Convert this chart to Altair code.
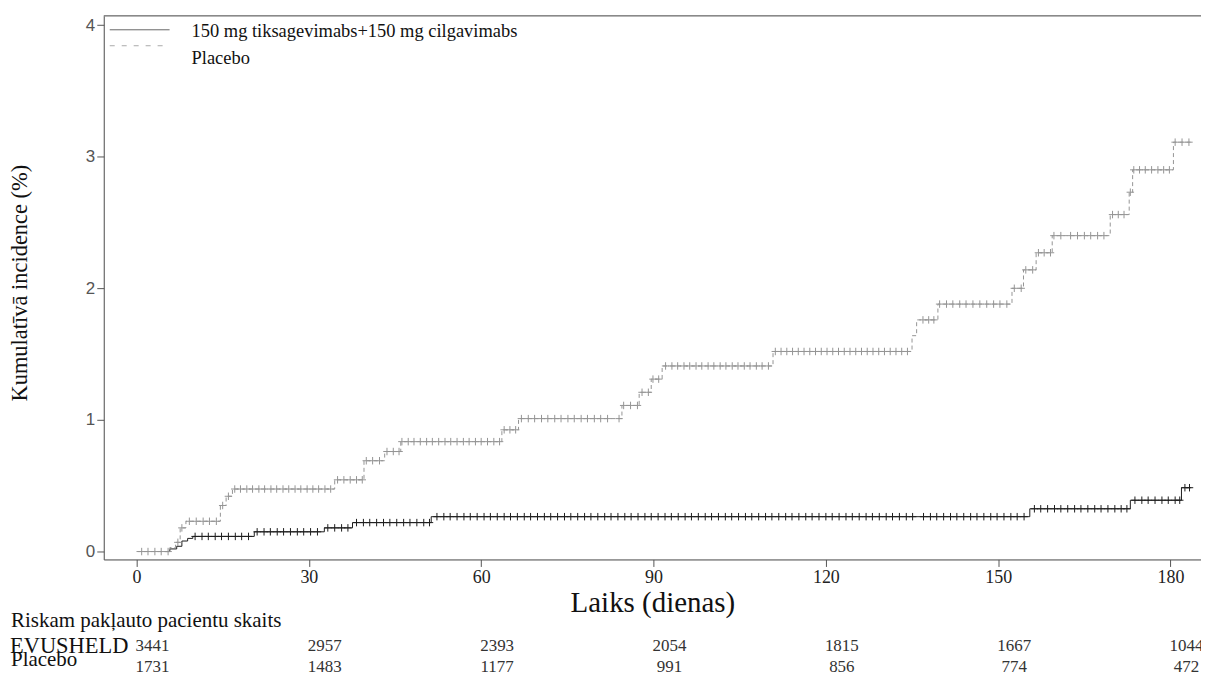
import altair as alt
import pandas as pd
import numpy as np

# ---- Kaplan-Meier style step curves (cumulative incidence, %) ----
evu_step_days = [5.0, 5.8, 7.0, 7.9, 8.9, 9.8, 20.5, 32.7, 37.6, 51.3, 155.5, 173.0, 181.9, 183.6]
evu_step_pct = [0, 0.02, 0.04, 0.08, 0.10, 0.115, 0.15, 0.18, 0.22, 0.265, 0.325, 0.39, 0.485, 0.485]

pla_step_days = [0, 5.8, 6.8, 7.6, 8.6, 14.6, 15.6, 16.7, 34.5, 39.6, 43.2, 46.0, 63.6, 66.5,
                 84.5, 87.5, 89.6, 91.5, 110.8, 135.0, 135.8, 139.5, 152.4, 154.4, 156.6, 159.4,
                 169.5, 172.8, 173.4, 180.5, 183.6]
pla_step_pct = [0, 0.03, 0.07, 0.18, 0.23, 0.35, 0.42, 0.475, 0.545, 0.69, 0.76, 0.835, 0.925, 1.01,
                1.11, 1.21, 1.31, 1.41, 1.52, 1.64, 1.76, 1.88, 2.0, 2.14, 2.27, 2.40,
                2.56, 2.73, 2.90, 3.11, 3.11]

# ---- censoring marks (days) ----
evu_cens_days = [
    10.2, 11.4, 12.5, 13.7, 14.8, 16.0, 17.2, 18.3, 19.5,
    21.0, 22.2, 23.3, 24.5, 25.6, 26.8, 28.0, 29.1, 30.3, 31.5,
    33.3, 34.5, 35.7, 36.8,
    38.3, 39.5, 40.6, 41.8, 43.0, 44.1, 45.3, 46.5, 47.6, 48.8, 50.0, 51.0,
    52.3, 53.5, 54.6, 55.8, 57.0, 58.1, 59.3, 60.5, 61.6, 62.8, 64.0, 65.1, 66.3, 67.5, 68.6,
    69.8, 71.0, 72.1, 73.3, 74.5, 75.6, 76.8, 78.0, 79.1, 80.3, 81.5, 82.6, 83.8, 85.0, 86.1,
    87.3, 88.5, 89.6, 90.8, 92.0, 93.1, 94.3, 95.5, 96.6, 97.8, 99.0, 100.1, 101.3, 102.5,
    103.6, 104.8, 106.0, 107.1, 108.3, 109.5, 110.6, 111.8, 113.0, 114.1, 115.3, 116.5, 117.6,
    118.8, 120.0, 121.1, 122.3, 123.5, 124.6, 125.8, 127.0, 128.1, 129.3, 130.5, 131.6, 132.8,
    134.0, 135.1, 137.0, 138.2, 139.3, 140.5, 141.7, 142.8, 144.0, 145.2, 146.3, 147.5, 148.7,
    149.8, 151.0, 152.2, 153.3, 154.5,
    156.3, 157.4, 158.6, 159.8, 160.9, 162.1, 163.3, 164.4, 165.6, 166.8, 167.9, 169.1, 170.3,
    171.4, 172.4,
    173.8, 175.0, 176.1, 177.3, 178.5, 179.6, 180.8, 181.6,
    182.5, 183.3,
]

pla_cens_days = [
    0.9, 2.0, 3.2, 4.3, 5.5,
    7.2, 7.9,
    9.2, 10.4, 11.6, 12.7, 13.9,
    15.0, 16.0,
    17.1, 18.1, 19.2, 20.2, 21.3, 22.3, 23.4, 24.4, 25.5, 26.5, 27.6, 28.6, 29.7, 30.7, 31.7, 32.8, 33.8,
    35.0, 36.1, 37.2, 38.3, 39.3,
    40.0, 41.1, 42.3,
    43.6, 44.7, 45.7,
    46.2, 47.3, 48.3, 49.4, 50.5, 51.5, 52.6, 53.7, 54.7, 55.8, 56.9, 57.9, 59.0, 60.0, 61.1, 62.2, 63.2,
    64.0, 65.0, 66.0,
    67.0, 68.2, 69.3, 70.5, 71.6, 72.8, 73.9, 75.1, 76.2, 77.4, 78.5, 79.7, 80.8, 82.0, 84.0,
    84.8, 86.0, 87.2,
    88.0, 89.1,
    89.9, 90.9,
    92.1, 93.2, 94.2, 95.3, 96.3, 97.4, 98.4, 99.5, 100.5, 101.6, 102.6, 103.7, 104.7, 105.8,
    106.8, 107.9, 108.9, 110.0,
    111.2, 112.2, 113.2, 114.2, 115.2, 116.2, 117.2, 118.2, 119.2, 120.2, 121.2, 122.2, 123.2,
    124.2, 125.2, 126.2, 127.2, 128.2, 129.2, 130.2, 131.2, 132.2, 133.2, 134.2,
    136.9, 137.9, 138.8,
    139.8, 141.0, 142.1, 143.3, 144.4, 145.6, 146.8, 148.0, 149.2, 150.3, 151.5,
    152.8, 154.0,
    154.8, 156.0,
    157.0, 158.0, 159.1,
    159.7, 160.9, 162.6, 163.8, 165.0, 166.1, 167.3, 168.4,
    169.9, 170.9, 171.9,
    173.0,
    173.6, 174.6, 175.6, 176.7, 177.8, 178.8, 179.8,
    180.8, 182.0, 183.2,
]

# ---- number at risk table ----
risk_days = [0, 30, 60, 90, 120, 150, 180]
evu_risk = [3441, 2957, 2393, 2054, 1815, 1667, 1044]
pla_risk = [1731, 1483, 1177, 991, 856, 774, 472]

x_ticks = [0, 30, 60, 90, 120, 150, 180]
y_ticks = [0, 1, 2, 3, 4]

SERIF = "Liberation Serif"
SANS = "Liberation Sans"
W, H = 1100, 545
BLACK = "#1e1e1e"
GRAY = "#959595"


def step_value(days, step_d, step_v):
    idx = np.searchsorted(np.array(step_d), np.array(days), side="right") - 1
    idx = np.clip(idx, 0, len(step_v) - 1)
    return [step_v[i] for i in idx]


evu_line = pd.DataFrame({"day": evu_step_days, "pct": evu_step_pct})
pla_line = pd.DataFrame({"day": pla_step_days, "pct": pla_step_pct})
evu_cens = pd.DataFrame({"day": evu_cens_days,
                         "pct": step_value(evu_cens_days, evu_step_days, evu_step_pct)})
pla_cens = pd.DataFrame({"day": pla_cens_days,
                         "pct": step_value(pla_cens_days, pla_step_days, pla_step_pct)})
risk_df = pd.DataFrame({"day": risk_days, "evu": evu_risk, "pla": pla_risk})

xscale = alt.Scale(domain=[-5.7, 185.3], nice=False, zero=False)
yscale = alt.Scale(domain=[-0.06, 4.07], nice=False, zero=False)

x_axis = alt.Axis(values=x_ticks, grid=False, labelFont=SERIF, labelFontSize=18,
                  labelColor="#222", tickSize=7, tickColor="#555", domainColor="#555",
                  labelPadding=2, title="Laiks (dienas)", titleFont=SERIF,
                  titleFontSize=29, titleFontWeight="normal", titleColor="#111",
                  titlePadding=2)
y_axis = alt.Axis(values=y_ticks, grid=False, labelFont=SANS, labelFontSize=17,
                  labelColor="#555", tickSize=7, tickColor="#555", domainColor="#555",
                  labelPadding=2, format="d", title=None)

X = alt.X("day:Q", scale=xscale, axis=x_axis)
Y = alt.Y("pct:Q", scale=yscale, axis=y_axis)
Xn = alt.X("day:Q", scale=xscale)
Yn = alt.Y("pct:Q", scale=yscale)

plus = "M-1,0L1,0M0,-1L0,1"

evu_l = alt.Chart(evu_line).mark_line(interpolate="step-after", color=BLACK,
                                      strokeWidth=1).encode(x=X, y=Y)
pla_l = alt.Chart(pla_line).mark_line(interpolate="step-after", color=GRAY,
                                      strokeWidth=1, strokeDash=[4, 3]).encode(x=Xn, y=Yn)
evu_c = alt.Chart(evu_cens).mark_point(shape=plus, size=56, filled=False, color=BLACK,
                                       strokeWidth=1, opacity=1).encode(x=Xn, y=Yn)
pla_c = alt.Chart(pla_cens).mark_point(shape=plus, size=56, filled=False, color=GRAY,
                                       strokeWidth=1, opacity=1).encode(x=Xn, y=Yn)

one = pd.DataFrame({"t": [""]})

top_border = alt.Chart(one).mark_rule(color="#555", strokeWidth=1).encode(
    x=alt.value(0), x2=alt.value(W), y=alt.value(0))

# legend
leg_solid = alt.Chart(one).mark_rule(color="#666", strokeWidth=1).encode(
    x=alt.value(6), x2=alt.value(66), y=alt.value(14))
leg_dash = alt.Chart(one).mark_rule(color="#aaa", strokeWidth=1, strokeDash=[5, 7]).encode(
    x=alt.value(6), x2=alt.value(60), y=alt.value(30))
leg_txt1 = alt.Chart(pd.DataFrame({"t": ["150 mg tiksagevimabs+150 mg cilgavimabs"]})).mark_text(
    font=SERIF, fontSize=18.5, color="#111", align="left", baseline="middle").encode(
    text="t:N", x=alt.value(88), y=alt.value(15))
leg_txt2 = alt.Chart(pd.DataFrame({"t": ["Placebo"]})).mark_text(
    font=SERIF, fontSize=18.5, color="#111", align="left", baseline="middle").encode(
    text="t:N", x=alt.value(88), y=alt.value(42))

# y title
y_title = alt.Chart(pd.DataFrame({"t": ["Kumulatīvā incidence (%)"]})).mark_text(
    font=SERIF, fontSize=22.5, color="#111", angle=270, align="center", baseline="middle").encode(
    text="t:N", x=alt.value(-84), y=alt.value(268))

# risk table
risk_head = alt.Chart(pd.DataFrame({"t": ["Riskam pakļauto pacientu skaits"]})).mark_text(
    font=SERIF, fontSize=21, color="#111", align="left", baseline="middle").encode(
    text="t:N", x=alt.value(-93), y=alt.value(607))
risk_evu_lab = alt.Chart(pd.DataFrame({"t": ["EVUSHELD"]})).mark_text(
    font=SERIF, fontSize=22.5, color="#111", align="left", baseline="middle").encode(
    text="t:N", x=alt.value(-94), y=alt.value(632))
risk_pla_lab = alt.Chart(pd.DataFrame({"t": ["Placebo"]})).mark_text(
    font=SERIF, fontSize=21, color="#111", align="left", baseline="middle").encode(
    text="t:N", x=alt.value(-93), y=alt.value(646))
risk_evu = alt.Chart(risk_df).mark_text(font=SERIF, fontSize=17, color="#333",
                                        align="center", baseline="middle", dx=16).encode(
    text="evu:Q", x=Xn, y=alt.value(632))
risk_pla = alt.Chart(risk_df).mark_text(font=SERIF, fontSize=17, color="#333",
                                        align="center", baseline="middle", dx=16).encode(
    text="pla:Q", x=Xn, y=alt.value(653))

chart = alt.layer(
    evu_l, pla_l, pla_c, evu_c, top_border,
    leg_solid, leg_dash, leg_txt1, leg_txt2, y_title,
    risk_head, risk_evu_lab, risk_pla_lab, risk_evu, risk_pla,
).properties(
    width=W, height=H,
    autosize=alt.AutoSizeParams(type="none"),
    padding={"left": 96, "top": 7, "right": 0, "bottom": 116},
).configure_view(stroke=None).configure(background="white")

chart.save("out.html", embed_options={"renderer": "svg", "actions": False})
